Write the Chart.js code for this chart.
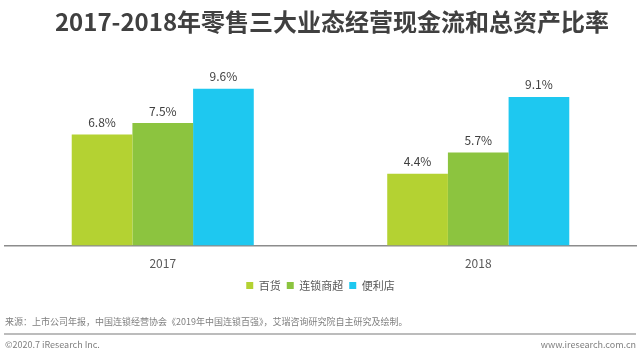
<!DOCTYPE html>
<html>
<head>
<meta charset="utf-8">
<script src="https://cdn.jsdelivr.net/npm/chart.js@4"></script>
<style>
  html, body { margin: 0; padding: 0; background: #fff; }
  #wrap { width: 640px; height: 354px; position: relative; }
</style>
</head>
<body>
<div id="wrap"><canvas id="cashChart" width="640" height="354"></canvas></div>
<script>
const years = ['2017', '2018'];
const baihuo = [6.8, 4.4];
const liansuo = [7.5, 5.7];
const bianli = [9.6, 9.1];
const seriesNames = ['百货', '连锁商超', '便利店'];
const colors = ['#b4d232', '#8cc43f', '#1ec8f0'];
const titleText = '2017-2018年零售三大业态经营现金流和总资产比率';

const FONT = '"Noto Sans CJK SC", "Noto Sans", sans-serif';

// value labels over each bar
const barLabels = {
    id: 'barLabels',
    afterDatasetsDraw(chart) {
        const c = chart.ctx;
        c.save();
        c.font = '12px ' + FONT;
        c.fillStyle = '#404040';
        c.textAlign = 'center';
        c.textBaseline = 'bottom';
        chart.data.datasets.forEach((ds, i) => {
            chart.getDatasetMeta(i).data.forEach((bar, j) => {
                c.fillText(ds.data[j].toFixed(1) + '%', bar.x, bar.y - 6);
            });
        });
        c.restore();
    }
};

// title (sits a bit right of centre in the original) + source / footer
const decor = {
    id: 'decor',
    afterDraw(chart) {
        const c = chart.ctx;
        c.save();
        c.font = 'bold 24px ' + FONT;
        c.fillStyle = '#404040';
        c.textAlign = 'center';
        c.textBaseline = 'middle';
        c.fillText(titleText, 332, 22);

        c.font = '9px ' + FONT;
        c.fillStyle = '#7f7f7f';
        c.textAlign = 'left';
        c.fillText('来源：上市公司年报，中国连锁经营协会《2019年中国连锁百强》，艾瑞咨询研究院自主研究及绘制。', 5, 322);
        c.fillText('©2020.7 iResearch Inc.', 5, 345);
        c.textAlign = 'right';
        c.fillText('www.iresearch.com.cn', 636, 345);
        c.strokeStyle = '#a6a6a6';
        c.lineWidth = 1.5;
        c.beginPath();
        c.moveTo(4, 334);
        c.lineTo(636, 334);
        c.stroke();
        c.restore();
    }
};

new Chart(document.getElementById('cashChart'), {
    type: 'bar',
    data: {
        labels: years,
        datasets: [
            { label: seriesNames[0], data: baihuo, backgroundColor: colors[0] },
            { label: seriesNames[1], data: liansuo, backgroundColor: colors[1] },
            { label: seriesNames[2], data: bianli, backgroundColor: colors[2] }
        ]
    },
    options: {
        responsive: false,
        animation: false,
        layout: { padding: { left: 5, right: 4, top: 74, bottom: 53 } },
        datasets: { bar: { categoryPercentage: 0.577, barPercentage: 1 } },
        scales: {
            x: {
                grid: { display: false },
                border: { color: '#8c8c8c', width: 1.5 },
                ticks: { color: '#595959', font: { family: FONT, size: 12 }, padding: 3 }
            },
            y: { display: false, min: 0, max: 10.5 }
        },
        plugins: {
            title: { display: false },
            legend: {
                position: 'bottom',
                labels: {
                    boxWidth: 7, boxHeight: 7,
                    color: '#595959',
                    font: { family: FONT, size: 11 },
                    padding: 6
                }
            },
            tooltip: { enabled: false }
        }
    },
    plugins: [barLabels, decor]
});
</script>
</body>
</html>
